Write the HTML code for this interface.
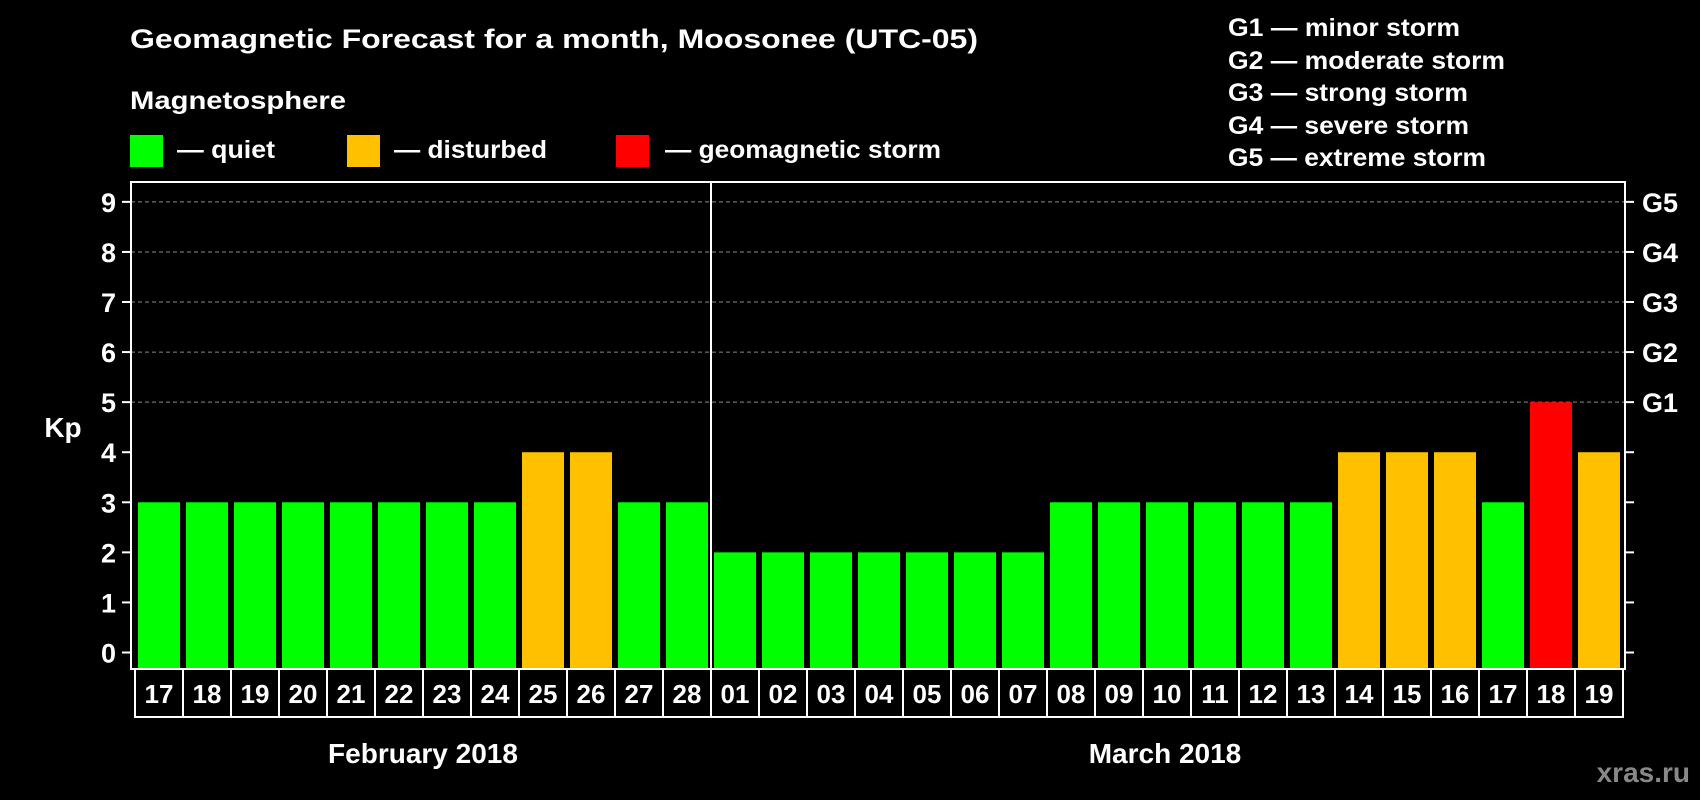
<!DOCTYPE html>
<html><head><meta charset="utf-8"><style>
html,body{margin:0;padding:0;background:#000;}
svg{display:block;font-family:"Liberation Sans",Arial,sans-serif;font-weight:bold;}
</style></head><body>
<svg id="chart" width="1700" height="800" viewBox="0 0 1700 800" xmlns="http://www.w3.org/2000/svg">
<rect width="1700" height="800" fill="#000"/>
<text x="130" y="48" fill="#fff" font-size="27" textLength="848" lengthAdjust="spacingAndGlyphs">Geomagnetic Forecast for a month, Moosonee (UTC-05)</text>
<text x="130" y="109" fill="#fff" font-size="25" textLength="216" lengthAdjust="spacingAndGlyphs">Magnetosphere</text>
<rect x="130" y="135" width="33" height="32" fill="#00ff00"/>
<text x="177" y="158" fill="#fff" font-size="25" textLength="98" lengthAdjust="spacingAndGlyphs">— quiet</text>
<rect x="347" y="135" width="33" height="32" fill="#ffc000"/>
<text x="394" y="158" fill="#fff" font-size="25" textLength="153" lengthAdjust="spacingAndGlyphs">— disturbed</text>
<rect x="616" y="135" width="33" height="32" fill="#ff0000"/>
<text x="665" y="158" fill="#fff" font-size="25" textLength="276" lengthAdjust="spacingAndGlyphs">— geomagnetic storm</text>
<g fill="#fff" font-size="25">
<text x="1228" y="36" textLength="232" lengthAdjust="spacingAndGlyphs">G1 — minor storm</text>
<text x="1228" y="69" textLength="277" lengthAdjust="spacingAndGlyphs">G2 — moderate storm</text>
<text x="1228" y="101" textLength="240" lengthAdjust="spacingAndGlyphs">G3 — strong storm</text>
<text x="1228" y="134" textLength="241" lengthAdjust="spacingAndGlyphs">G4 — severe storm</text>
<text x="1228" y="166" textLength="258" lengthAdjust="spacingAndGlyphs">G5 — extreme storm</text>
</g>
<text x="63" y="437" fill="#fff" font-size="28" text-anchor="middle">Kp</text>
<text x="423" y="763" fill="#fff" font-size="28" text-anchor="middle">February 2018</text>
<text x="1165" y="763" fill="#fff" font-size="28" text-anchor="middle">March 2018</text>
<text x="1690" y="782" fill="#888" font-size="28" text-anchor="end">xras.ru</text>
<g id="plot"></g>
</svg>
<script>
const dates = ["17","18","19","20","21","22","23","24","25","26","27","28","01","02","03","04","05","06","07","08","09","10","11","12","13","14","15","16","17","18","19"];
const kpValues = [3,3,3,3,3,3,3,3,4,4,3,3,2,2,2,2,2,2,2,3,3,3,3,3,3,4,4,4,3,5,4];
const yTicks = [0,1,2,3,4,5,6,7,8,9];
const gLabels = ["G1","G2","G3","G4","G5"];
const gLevels = [5,6,7,8,9];
const monthSplitIndex = 12;

const NS = "http://www.w3.org/2000/svg";
const g = document.getElementById('plot');
const plotL = 131, plotR = 1625, plotT = 182, plotB = 669;
const cellL = 135, cellW = 48, barPad = 3;
const y = v => 652.5 - v * 50.07;
const x = i => cellL + i * cellW;
function mk(tag, attrs, parent) {
  const el = document.createElementNS(NS, tag);
  for (const k in attrs) el.setAttribute(k, attrs[k]);
  (parent || g).appendChild(el);
  return el;
}
// grid
gLevels.forEach(v => {
  const l = mk('line', {x1: plotL, x2: plotR, y1: y(v), y2: y(v), stroke: '#888', 'stroke-width': 1, 'stroke-dasharray': '4,3'});
  
  
});
// bars
kpValues.forEach((v, i) => {
  const col = v >= 5 ? '#ff0000' : (v >= 4 ? '#ffc000' : '#00ff00');
  const r = mk('rect', {x: x(i) + barPad, y: y(v), width: cellW - 2 * barPad, height: plotB - y(v), fill: col});
  
  
});
// frame
const fr = mk('rect', {x: plotL, y: plotT, width: plotR - plotL, height: plotB - plotT, fill: 'none', stroke: '#fff', 'stroke-width': 2});


const sep = mk('line', {x1: x(monthSplitIndex), x2: x(monthSplitIndex), y1: plotT, y2: plotB, stroke: '#fff', 'stroke-width': 2});


// y ticks
yTicks.forEach(v => {
  const t = mk('line', {x1: 122, x2: plotL, y1: y(v), y2: y(v), stroke: '#fff', 'stroke-width': 2});
  
  
  const t2 = mk('line', {x1: plotR, x2: 1634, y1: y(v), y2: y(v), stroke: '#fff', 'stroke-width': 2});
  
  
  const lb = mk('text', {x: 116, y: y(v) + 10, fill: '#fff', 'font-size': 27, 'text-anchor': 'end'});
  lb.textContent = v;
  
  
});
gLabels.forEach((s, i) => {
  const lb = mk('text', {x: 1642, y: y(gLevels[i]) + 10, fill: '#fff', 'font-size': 27});
  lb.textContent = s;
  
  
});
// date cells
dates.forEach((d, i) => {
  const c = mk('rect', {x: x(i), y: plotB, width: cellW, height: 48, fill: '#000', stroke: '#fff', 'stroke-width': 2});
  
  
  const t = mk('text', {x: x(i) + cellW / 2, y: plotB + 34, fill: '#fff', 'font-size': 26, 'text-anchor': 'middle'});
  t.textContent = d;
  
  
});
</script>
</body></html>
